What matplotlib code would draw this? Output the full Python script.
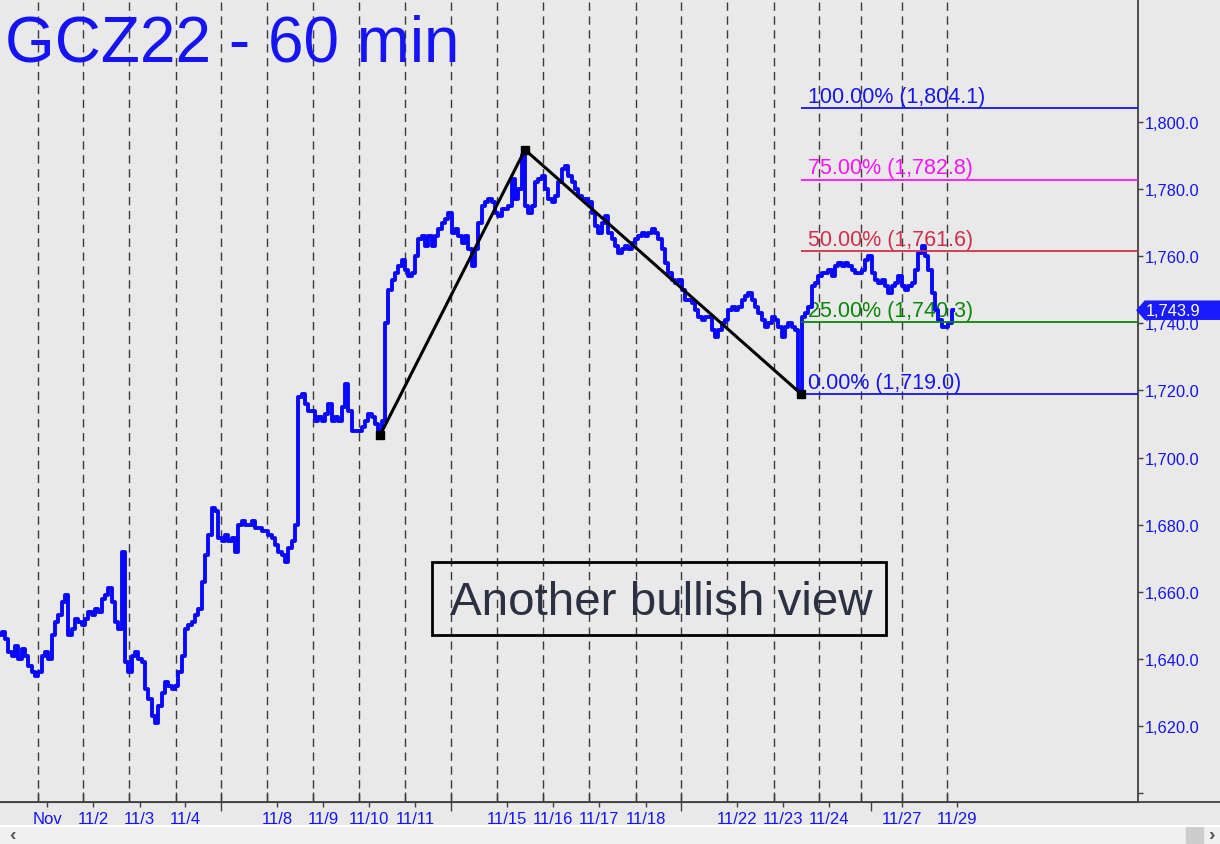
import numpy as np
import matplotlib
matplotlib.use('Agg')
import matplotlib.pyplot as plt
import matplotlib.transforms as mtransforms
from matplotlib.patches import Rectangle, Polygon
from matplotlib.lines import Line2D

plt.rcParams['font.family'] = ['Liberation Sans', 'DejaVu Sans']

# hourly-ish closes, one value per plotted step
closes = [
    1647, 1648, 1646, 1642, 1641, 1644, 1640, 1643, 1641, 1638,
    1636, 1635, 1636, 1641, 1642, 1640, 1647, 1651, 1653, 1657,
    1659, 1647, 1649, 1652, 1651, 1650, 1652, 1654, 1653, 1655,
    1654, 1658, 1659, 1661, 1657, 1651, 1649, 1672, 1639, 1636,
    1641, 1642, 1640, 1639, 1631, 1628, 1623, 1621, 1626, 1630,
    1633, 1632, 1631, 1632, 1636, 1641, 1649, 1650, 1651, 1653,
    1655, 1663, 1671, 1677, 1685, 1684, 1676, 1675, 1677, 1675,
    1676, 1672, 1680, 1681, 1680, 1680, 1681, 1679, 1679, 1678,
    1678, 1677, 1676, 1674, 1672, 1671, 1669, 1673, 1675, 1680,
    1718, 1719, 1716, 1714, 1714, 1711, 1712, 1711, 1713, 1716,
    1711, 1712, 1711, 1715, 1722, 1714, 1708, 1708, 1708, 1709,
    1711, 1713, 1712, 1710, 1708, 1711, 1740, 1750, 1753, 1755,
    1757, 1759, 1756, 1754, 1755, 1760, 1765, 1766, 1763, 1766,
    1763, 1766, 1768, 1770, 1771, 1773, 1767, 1768, 1766, 1764,
    1766, 1762, 1757, 1762, 1770, 1775, 1776, 1777, 1776, 1773,
    1772, 1774, 1774, 1775, 1783, 1777, 1780, 1790, 1775, 1773,
    1775, 1782, 1783, 1784, 1780, 1777, 1776, 1778, 1782, 1786,
    1787, 1784, 1782, 1780, 1778, 1777, 1777, 1776, 1773, 1769,
    1767, 1770, 1772, 1767, 1765, 1763, 1761, 1762, 1763, 1762,
    1764, 1765, 1766, 1767, 1766, 1767, 1768, 1767, 1765, 1762,
    1758, 1755, 1753, 1752, 1753, 1750, 1747, 1747, 1746, 1744,
    1742, 1741, 1742, 1742, 1738, 1736, 1738, 1740, 1741, 1744,
    1745, 1744, 1745, 1747, 1748, 1749, 1747, 1745, 1743, 1741,
    1739, 1740, 1742, 1741, 1739, 1736, 1739, 1740, 1739, 1738,
    1720, 1742, 1743, 1745, 1751, 1752, 1754, 1755, 1755, 1756,
    1754, 1757, 1758, 1757, 1758, 1757, 1756, 1755, 1755, 1756,
    1759, 1760, 1755, 1753, 1752, 1753, 1751, 1749, 1751, 1752,
    1754, 1751, 1750, 1751, 1752, 1756, 1761, 1763, 1760, 1756,
    1749, 1744, 1741, 1739, 1739, 1740, 1743.9,
]
bar_x = np.arange(len(closes))

# session boundaries (dashed lines), date labels and weekend ticks, in step units
session_lines = [11.3, 25.0, 38.7, 52.65, 66.3, 80.1, 93.9, 107.7, 121.5, 135.3,
                 149.1, 162.9, 176.7, 190.7, 204.4, 218.2, 232.05, 245.8, 258.4,
                 270.5, 284.2]
date_ticks = [14.2, 28.0, 41.85, 55.6, 83.1, 96.9, 110.7, 124.6, 152.1, 165.9,
              179.7, 193.65, 221.1, 235.0, 248.7, 270.5, 287.1]
date_labels = ['Nov', '11/2', '11/3', '11/4', '11/8', '11/9', '11/10', '11/11',
               '11/15', '11/16', '11/17', '11/18', '11/22', '11/23', '11/24',
               '11/27', '11/29']
weekend_ticks = [66.3, 135.3, 204.4, 261.3]

# ABC pivots
pivot_x = [114.0, 157.5, 240.3]
pivot_y = [1706.6, 1791.7, 1719.0]

# fib targets
fib_pct = ['100.00%', '75.00%', '50.00%', '25.00%', '0.00%']
fib_val = [1804.1, 1782.8, 1761.6, 1740.3, 1719.0]
fib_col = ['#1414f5', '#ff10ff', '#d0304c', '#0a870a', '#1414f5']

last_price = 1743.9
y_ticks = [1600, 1620, 1640, 1660, 1680, 1700, 1720, 1740, 1760, 1780, 1800]

bg = '#e9e9e9'
blue = '#1414f5'
axcol = '#404040'
W, H = 1220, 845

fig = plt.figure(figsize=(12.2, 8.45), dpi=100, facecolor=bg)
ax = fig.add_axes([0, 42 / H, 1138 / W, 803 / H])
ax.set_facecolor(bg)
xmax = 341.4
ax.set_xlim(0, xmax)
ax.set_ylim(1597.4, 1836.6)

for gx in session_lines:
    ax.axvline(gx, color='#3a3a3a', lw=1, ls=(0, (6, 4)), zorder=1)

# price series, drawn blocky like hourly bars
ax.plot(bar_x, closes, color='#0808ff', lw=2.8, drawstyle='steps-mid', zorder=3)

# fib levels
for p, v, c in zip(fib_pct, fib_val, fib_col):
    ax.hlines(v, pivot_x[2], xmax, color=c, lw=1.3, zorder=4)
    ax.annotate(f'{p} ({v:,.1f})', (pivot_x[2] + 2.1, v), xytext=(0, 4.5),
                textcoords='offset points', color=c, fontsize=15.5,
                va='baseline', ha='left', zorder=2)

# ABC zigzag
ax.plot(pivot_x, pivot_y, color='black', lw=2.2, marker='s', ms=5.5, zorder=5)

# y axis on the right
ax.yaxis.tick_right()
ax.set_yticks(y_ticks, labels=[''] + [f'{t:,.1f}' for t in y_ticks[1:]])
ax.tick_params(axis='y', direction='out', length=3.6, width=1, color=axcol,
               pad=1.5, labelsize=11.8, labelcolor=blue)

# x axis
ax.set_xticks(date_ticks, labels=date_labels)
ax.set_xticks(weekend_ticks, minor=True)
ax.tick_params(axis='x', which='major', direction='out', length=3.6, width=1,
               color=axcol, pad=3, labelsize=12, labelcolor=blue)
ax.tick_params(axis='x', which='minor', direction='out', length=6.5, width=1,
               color=axcol)
sec = ax.secondary_xaxis('bottom')
sec.set_xticks(session_lines)
sec.tick_params(direction='in', length=7, width=1, color=axcol, labelbottom=False)
sec.spines['bottom'].set_color(axcol)

for s in ['left', 'top']:
    ax.spines[s].set_visible(False)
for s in ['right', 'bottom']:
    ax.spines[s].set_color(axcol)
    ax.spines[s].set_linewidth(1.3)
fig.add_artist(Line2D([1138 / W, 1], [42 / H, 42 / H], color=axcol, lw=1.3))

# last price tag
tr = mtransforms.blended_transform_factory(ax.transAxes, ax.transData)
h = 2.7
tag = Polygon([(1137 / 1138, last_price), (1145 / 1138, last_price + h),
               (1220 / 1138, last_price + h), (1220 / 1138, last_price - h),
               (1145 / 1138, last_price - h)], closed=True, transform=tr,
              color='#1a1aff', clip_on=False, zorder=6)
ax.add_patch(tag)
ax.text(1146 / 1138, last_price, f'{last_price:,.1f}', transform=tr, color='white',
        fontsize=11.8, va='center', ha='left', clip_on=False, zorder=7)

# comment box
ax.add_patch(Rectangle((432 / 1138, 1 - 636 / 803), 454 / 1138, 73 / 803,
                       transform=ax.transAxes, fill=False, ec='black', lw=2, zorder=6))
ax.text(661 / 1138, 1 - 615 / 803, 'Another bullish view', transform=ax.transAxes,
        fontsize=34.2, color='#2b3142', ha='center', va='baseline', zorder=6)

# title
fig.text(5 / W, 1 - 62 / H, 'GCZ22 - 60 min', fontsize=46, color=blue, va='baseline')

# scrollbar strip
fig.add_artist(Rectangle((0, 0), 1, 18 / H, transform=fig.transFigure,
                         color='#f0f0f0', zorder=0))
fig.add_artist(Line2D([0, 1], [18 / H, 18 / H], color='white', lw=1.5))
fig.add_artist(Rectangle((1186 / W, 1 / H), 17 / W, 16 / H, transform=fig.transFigure,
                         color='#cdcdcd'))
fig.text(12 / W, 9 / H, '‹', fontsize=14, color='#555555', fontweight='bold',
         ha='center', va='center')
fig.text(1211 / W, 9 / H, '›', fontsize=14, color='#555555', fontweight='bold',
         ha='center', va='center')

fig.savefig('out.png', dpi=100, facecolor=bg)
